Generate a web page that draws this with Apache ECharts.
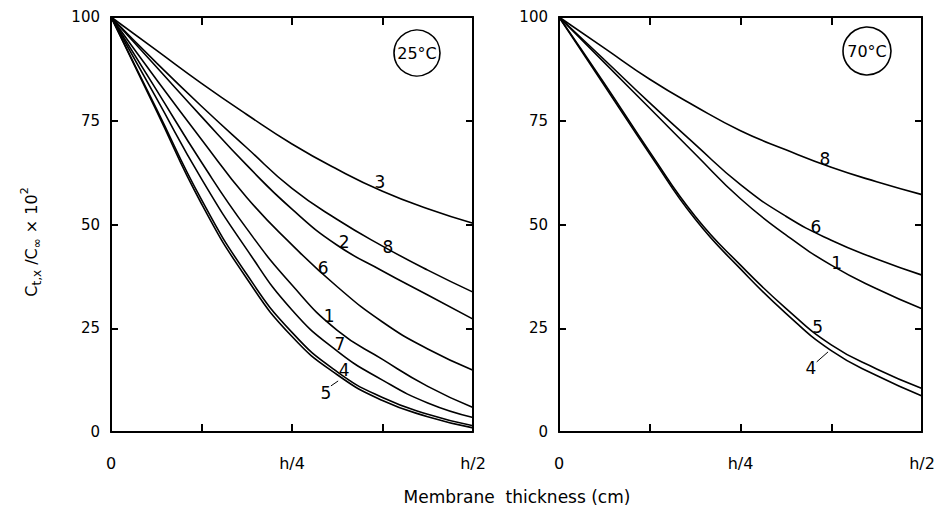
<!DOCTYPE html>
<html>
<head>
<meta charset="utf-8">
<script src="https://cdn.jsdelivr.net/npm/echarts@6.0.0/dist/echarts.min.js"></script>
<style>
  html, body { margin: 0; padding: 0; background: #fff; }
  #chart { width: 942px; height: 513px; }
</style>
</head>
<body>
<div id="chart"></div>
<script>
// Depth into the membrane, in units of h/16 (0 = surface, 8 = mid-plane h/2)
const depth = [0, 1, 2, 3, 4, 5, 6, 7, 8];
const depthTickText = { 0: '0', 4: 'h/4', 8: 'h/2' };
const yTickValues = [0, 25, 50, 75, 100];

// Relative concentration C(t,x)/C∞ × 10² at 25 °C
const c25_1 = [100, 82.5, 65.0, 49.0, 35.4, 24.5, 17.5, 11.0, 5.9];
const c25_2 = [100, 88.0, 76.0, 64.3, 53.7, 45.0, 38.8, 33.0, 27.2];
const c25_3 = [100, 92.0, 84.0, 76.5, 69.4, 63.3, 58.0, 53.8, 50.3];
const c25_4 = [100, 78.0, 56.0, 38.0, 24.0, 14.5, 8.3, 4.3, 1.5];
const c25_5 = [100, 77.5, 55.0, 37.0, 23.0, 13.8, 7.6, 3.7, 1.0];
const c25_6 = [100, 85.0, 70.5, 56.5, 45.1, 35.0, 26.5, 20.0, 14.9];
const c25_7 = [100, 80.5, 61.0, 44.0, 29.4, 19.5, 12.5, 7.0, 3.5];
const c25_8 = [100, 89.0, 78.5, 68.5, 58.7, 51.2, 44.8, 39.0, 33.7];

// Relative concentration at 70 °C
const c70_1 = [100, 89.0, 78.0, 67.0, 56.2, 47.5, 40.2, 34.5, 29.7];
const c70_4 = [100, 83.5, 67.0, 51.3, 39.3, 28.6, 19.6, 13.6, 8.7];
const c70_5 = [100, 84.0, 67.5, 52.0, 40.2, 29.8, 21.0, 15.2, 10.5];
const c70_6 = [100, 89.7, 79.3, 69.3, 59.6, 52.0, 46.2, 41.7, 37.8];
const c70_8 = [100, 92.5, 85.0, 78.5, 72.6, 68.0, 63.8, 60.3, 57.2];

const FONT = 'DejaVu Sans';
const INK = '#000';

// Curve-number annotations, anchored in data coordinates
const notes25 = {
  '3': [5.94, 60.2], '2': [5.15, 45.8], '8': [6.12, 44.6], '6': [4.69, 39.5],
  '1': [4.82, 28.0], '7': [5.06, 21.2], '4': [5.15, 14.9], '5': [4.75, 9.4]
};
const notes70 = {
  '8': [5.86, 65.8], '6': [5.66, 49.4], '1': [6.12, 40.7], '5': [5.70, 25.3], '4': [5.55, 15.4]
};
// short leader strokes from a number to its curve
const leaders25 = { '5': [[4.86, 11.1], [5.02, 12.3]] };
const leaders70 = { '4': [[5.68, 16.9], [5.93, 19.3]] };

function curve(name, values, axis, notes, leaders) {
  const s = {
    type: 'line',
    name: name,
    xAxisIndex: axis,
    yAxisIndex: axis,
    data: depth.map((d, i) => [d, values[i]]),
    smooth: 0.5,
    symbol: 'none',
    silent: true,
    lineStyle: { color: INK, width: 1.6 },
    markPoint: {
      symbol: 'circle',
      symbolSize: 1,
      itemStyle: { color: 'rgba(0,0,0,0)' },
      silent: true,
      label: {
        show: true, position: 'inside', formatter: name,
        color: INK, fontFamily: FONT, fontSize: 17
      },
      data: [{ coord: notes[name] }]
    }
  };
  if (leaders[name]) {
    s.markLine = {
      silent: true,
      symbol: ['none', 'none'],
      label: { show: false },
      lineStyle: { color: INK, width: 1, type: 'solid' },
      data: [[{ coord: leaders[name][0] }, { coord: leaders[name][1] }]]
    };
  }
  return s;
}

function xAxisFor(grid, pos) {
  return {
    type: 'value', gridIndex: grid, position: pos,
    min: 0, max: 8, interval: 2,
    axisLine: { show: true, onZero: false, lineStyle: { color: INK, width: 2 } },
    axisTick: { show: true, inside: true, length: 8, lineStyle: { color: INK, width: 2 } },
    splitLine: { show: false },
    axisLabel: {
      show: pos === 'bottom', margin: 23,
      color: INK, fontFamily: FONT, fontSize: 16,
      formatter: v => (depthTickText[v] !== undefined ? depthTickText[v] : '')
    }
  };
}

function yAxisFor(grid, pos) {
  return {
    type: 'value', gridIndex: grid, position: pos,
    min: 0, max: 100, interval: 25,
    axisLine: { show: true, onZero: false, lineStyle: { color: INK, width: 2 } },
    axisTick: { show: true, inside: true, length: 7, lineStyle: { color: INK, width: 2 } },
    splitLine: { show: false },
    axisLabel: {
      show: pos === 'left', margin: 11,
      color: INK, fontFamily: FONT, fontSize: 15,
      formatter: v => (yTickValues.indexOf(v) >= 0 ? String(v) : '')
    }
  };
}

const chart = echarts.init(document.getElementById('chart'), null, { renderer: 'svg' });

chart.setOption({
  animation: false,
  backgroundColor: '#fff',
  grid: [
    { left: 111, top: 17, width: 362, height: 415 },
    { left: 559, top: 17, width: 363, height: 415 }
  ],
  xAxis: [xAxisFor(0, 'bottom'), xAxisFor(0, 'top'), xAxisFor(1, 'bottom'), xAxisFor(1, 'top')],
  yAxis: [yAxisFor(0, 'left'), yAxisFor(0, 'right'), yAxisFor(1, 'left'), yAxisFor(1, 'right')],
  series: [
    curve('3', c25_3, 0, notes25, leaders25),
    curve('8', c25_8, 0, notes25, leaders25),
    curve('2', c25_2, 0, notes25, leaders25),
    curve('6', c25_6, 0, notes25, leaders25),
    curve('1', c25_1, 0, notes25, leaders25),
    curve('7', c25_7, 0, notes25, leaders25),
    curve('4', c25_4, 0, notes25, leaders25),
    curve('5', c25_5, 0, notes25, leaders25),
    curve('8', c70_8, 2, notes70, leaders70),
    curve('6', c70_6, 2, notes70, leaders70),
    curve('1', c70_1, 2, notes70, leaders70),
    curve('5', c70_5, 2, notes70, leaders70),
    curve('4', c70_4, 2, notes70, leaders70)
  ],
  graphic: [
    {
      type: 'text', x: 31, y: 242, rotation: Math.PI / 2,
      style: {
        text: '{m|C}{s|t,x}{m| /C}{s|∞}{m| × 10}{p|2}',
        align: 'center', verticalAlign: 'middle', fill: INK,
        rich: {
          m: { fontFamily: FONT, fontSize: 16, lineHeight: 24, verticalAlign: 'middle', fill: INK },
          s: { fontFamily: FONT, fontSize: 12, lineHeight: 24, verticalAlign: 'bottom', fill: INK },
          p: { fontFamily: FONT, fontSize: 11, lineHeight: 24, verticalAlign: 'top', fill: INK }
        }
      }
    },
    {
      type: 'text', x: 517, y: 497,
      style: {
        text: 'Membrane  thickness (cm)', fontFamily: FONT, fontSize: 17,
        align: 'center', verticalAlign: 'middle', fill: INK
      }
    },
    { type: 'circle', shape: { cx: 417, cy: 53, r: 23 }, style: { fill: 'none', stroke: INK, lineWidth: 1.6 } },
    {
      type: 'text', x: 417, y: 53,
      style: { text: '25°C', fontFamily: FONT, fontSize: 16, align: 'center', verticalAlign: 'middle', fill: INK }
    },
    { type: 'circle', shape: { cx: 867, cy: 51, r: 24 }, style: { fill: 'none', stroke: INK, lineWidth: 1.6 } },
    {
      type: 'text', x: 867, y: 51,
      style: { text: '70°C', fontFamily: FONT, fontSize: 16, align: 'center', verticalAlign: 'middle', fill: INK }
    }
  ]
});
</script>
</body>
</html>
